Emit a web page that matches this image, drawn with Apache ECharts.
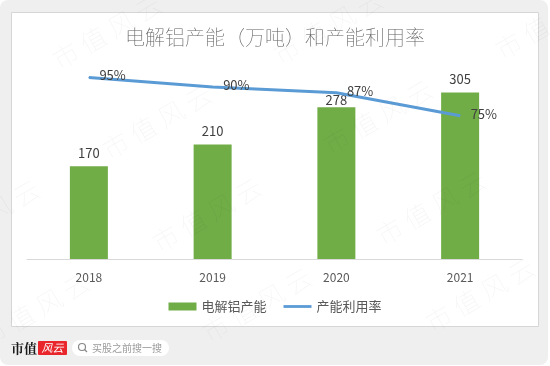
<!DOCTYPE html>
<html>
<head>
<meta charset="utf-8">
<script src="https://cdn.jsdelivr.net/npm/echarts@6/dist/echarts.min.js"></script>
<style>
  html, body { margin: 0; padding: 0; background: #fff; }
  #chart { width: 550px; height: 366px; }
</style>
</head>
<body>
<div id="chart"></div>
<script>
const years = ['2018', '2019', '2020', '2021'];
const capacity = [170, 210, 278, 305];      // 万吨
const utilization = [95, 90, 87, 75];       // %

// watermark centres, repeated "市值风云" tile
const watermarkSpots = [
  [107, 32], [328, 27], [550, 22],
  [157, 122], [378, 117],
  [-15, 217], [207, 215], [431, 208],
  [35, 310], [257, 305], [480, 295]
];

const FONT = '"Noto Sans CJK SC", "Noto Sans", sans-serif';

const chart = echarts.init(document.getElementById('chart'));

const watermarks = watermarkSpots.map(p => ({
  type: 'text',
  x: p[0],
  y: p[1],
  rotation: Math.PI / 6,
  z: 100,
  silent: true,
  style: {
    text: '市 值 风 云',
    fontSize: 26,
    fontFamily: FONT,
    fontWeight: 'lighter',
    fill: 'rgba(0,0,0,0.045)',
    align: 'center',
    verticalAlign: 'middle'
  }
}));

// the 2020 label sits lower, right on its bar
const barData = capacity.map((v, i) => i === 2
  ? { value: v, label: { offset: [0, 6] } }
  : v);

const option = {
  animation: false,
  title: {
    text: '电解铝产能（万吨）和产能利用率',
    left: 'center',
    top: 22,
    textStyle: {
      fontSize: 20,
      fontWeight: 'lighter',
      color: '#606060',
      fontFamily: FONT
    }
  },
  legend: {
    bottom: 48,
    left: 'center',
    itemWidth: 28,
    itemHeight: 8,
    itemGap: 17,
    textStyle: { fontSize: 13, color: '#595959', fontFamily: FONT },
    data: [
      { name: '电解铝产能', icon: 'rect' },
      { name: '产能利用率', icon: 'path://M0,0H30V3H0Z' }
    ]
  },
  grid: {
    left: 27,
    right: 28,
    top: 68,
    bottom: 107,
    containLabel: false
  },
  xAxis: {
    type: 'category',
    data: years,
    axisTick: { show: false },
    axisLine: { lineStyle: { color: '#d9d9d9', width: 1 } },
    axisLabel: { color: '#595959', fontSize: 12, margin: 12, fontFamily: FONT }
  },
  yAxis: [
    { type: 'value', min: 0, max: 350, show: false, splitLine: { show: false } },
    { type: 'value', min: 0, max: 100, show: false, splitLine: { show: false } }
  ],
  series: [
    {
      name: '电解铝产能',
      type: 'bar',
      data: barData,
      barWidth: 38,
      itemStyle: { color: '#70ad47' },
      label: {
        show: true,
        position: 'top',
        distance: 7,
        color: '#404040',
        fontSize: 13,
        fontFamily: FONT
      }
    },
    {
      name: '产能利用率',
      type: 'line',
      yAxisIndex: 1,
      data: utilization,
      symbol: 'circle',
      symbolSize: 1,
      lineStyle: { color: '#5b9bd5', width: 3 },
      itemStyle: { color: '#5b9bd5' },
      label: {
        show: true,
        position: 'right',
        distance: 10,
        offset: [0, -2],
        color: '#404040',
        fontSize: 13,
        fontFamily: FONT,
        formatter: p => p.value + '%'
      }
    }
  ],
  graphic: [
    {
      type: 'rect',
      z: -10,
      shape: { x: 0, y: 0, width: 548, height: 365, r: 8 },
      style: { fill: '#efefef' }
    },
    {
      type: 'rect',
      z: -9,
      shape: { x: 11.5, y: 12.5, width: 527, height: 314 },
      style: { fill: '#ffffff', stroke: '#d6d6d6', lineWidth: 1 }
    },
    {
      type: 'text',
      x: 11, y: 348,
      style: {
        text: '市值', fontSize: 13, fontWeight: 'bold',
        fill: '#1a1a1a', fontFamily: '"Noto Serif CJK SC", ' + FONT, verticalAlign: 'middle'
      }
    },
    {
      type: 'rect',
      shape: { x: 38, y: 341, width: 29, height: 14, r: 1 },
      style: { fill: '#e8262c' }
    },
    {
      type: 'text',
      x: 52.5, y: 348,
      style: {
        text: '风云', fontSize: 11, fontStyle: 'italic',
        fill: '#fff', fontFamily: FONT, align: 'center', verticalAlign: 'middle'
      }
    },
    {
      type: 'rect',
      shape: { x: 72, y: 340, width: 97, height: 16, r: 8 },
      style: { fill: '#ffffff' }
    },
    {
      type: 'circle',
      shape: { cx: 82, cy: 347, r: 3.5 },
      style: { fill: 'none', stroke: '#888', lineWidth: 1.2 }
    },
    {
      type: 'line',
      shape: { x1: 84.5, y1: 349.5, x2: 87, y2: 352 },
      style: { stroke: '#888', lineWidth: 1.2 }
    },
    {
      type: 'text',
      x: 92, y: 348,
      style: {
        text: '买股之前搜一搜', fontSize: 10,
        fill: '#9a9a9a', fontFamily: FONT, verticalAlign: 'middle'
      }
    }
  ].concat(watermarks)
};

chart.setOption(option);
</script>
</body>
</html>
